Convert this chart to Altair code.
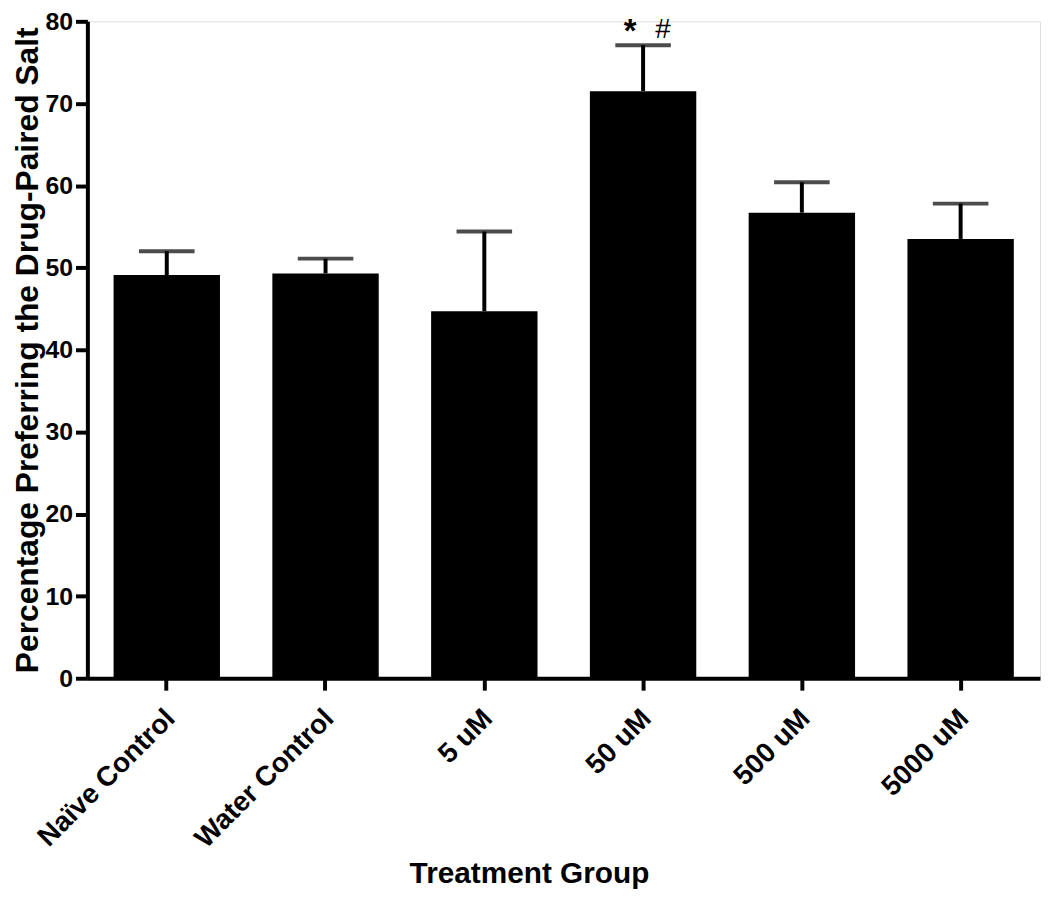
import altair as alt
import pandas as pd

groups = ["Naïve Control", "Water Control", "5 uM", "50 uM", "500 uM", "5000 uM"]
means = [49.1, 49.3, 44.7, 71.5, 56.7, 53.5]
sems = [2.9, 1.8, 9.7, 5.6, 3.7, 4.3]
y_ticks = [0, 10, 20, 30, 40, 50, 60, 70, 80]
annot_group = "50 uM"
annot_star = "*"
annot_hash = "#"

df = pd.DataFrame({"group": groups, "mean": means, "sem": sems})
df["upper"] = df["mean"] + df["sem"]

FONT = "Liberation Sans"

x_enc = alt.X(
    "group:N",
    sort=groups,
    scale=alt.Scale(paddingInner=0.33, paddingOuter=0.165),
    axis=alt.Axis(
        title="Treatment Group",
        titleFont=FONT, titleFontSize=30, titleFontWeight="bold", titleColor="black",
        titleX=445, titleY=206, titleBaseline="alphabetic", titleAlign="center",
        labelFont=FONT, labelFontSize=28, labelFontWeight="bold", labelColor="black",
        labelAngle=-45, labelAlign="right", labelBaseline="middle", labelPadding=24,
        labelOffset=4, labelLimit=0, labelOverlap=False,
        tickSize=12, tickWidth=4, tickColor="black",
        domainWidth=4, domainColor="black", grid=False,
    ),
)
y_scale = alt.Scale(domain=[0, 80], nice=False)
y_axis = alt.Axis(
    title="Percentage Preferring the Drug-Paired Salt",
    titleFont=FONT, titleFontSize=32, titleFontWeight="bold", titleColor="black",
    titleX=-50, titleBaseline="alphabetic", titleLimit=0,
    labelFont=FONT, labelFontSize=25, labelFontWeight="bold", labelColor="black",
    labelPadding=3, values=y_ticks,
    tickSize=12, tickWidth=4, tickColor="black",
    domainWidth=4, domainColor="black", grid=False,
)

base = alt.Chart(df)

bars = base.mark_bar(color="black").encode(
    x=x_enc,
    y=alt.Y("mean:Q", scale=y_scale, axis=y_axis),
)
stems = base.mark_rule(color="black", strokeWidth=4).encode(
    x=alt.X("group:N", sort=groups),
    y="mean:Q",
    y2="upper:Q",
)
caps = base.mark_tick(color="black", thickness=4, size=56, orient="horizontal").encode(
    x=alt.X("group:N", sort=groups),
    y="upper:Q",
)

adf = df[df["group"] == annot_group].copy()
star = alt.Chart(adf).mark_text(
    text=annot_star, font=FONT, fontSize=33, fontWeight="bold", color="black",
    dx=-13, dy=-3, baseline="alphabetic", align="center",
).encode(x=alt.X("group:N", sort=groups), y="upper:Q")
hashm = alt.Chart(adf).mark_text(
    text=annot_hash, font=FONT, fontSize=28, fontWeight="normal", color="black",
    dx=20, dy=-7, baseline="alphabetic", align="center",
).encode(x=alt.X("group:N", sort=groups), y="upper:Q")

chart = (
    alt.layer(bars, stems, caps, star, hashm)
    .properties(
        width=960, height=662,
        autosize=alt.AutoSizeParams(type="none"),
        padding={"left": 80, "top": 10, "right": 2, "bottom": 215},
    )
    .configure_view(stroke=None)
    .configure(background="white")
)

chart.save("out.html", embed_options={"renderer": "svg", "actions": False})
